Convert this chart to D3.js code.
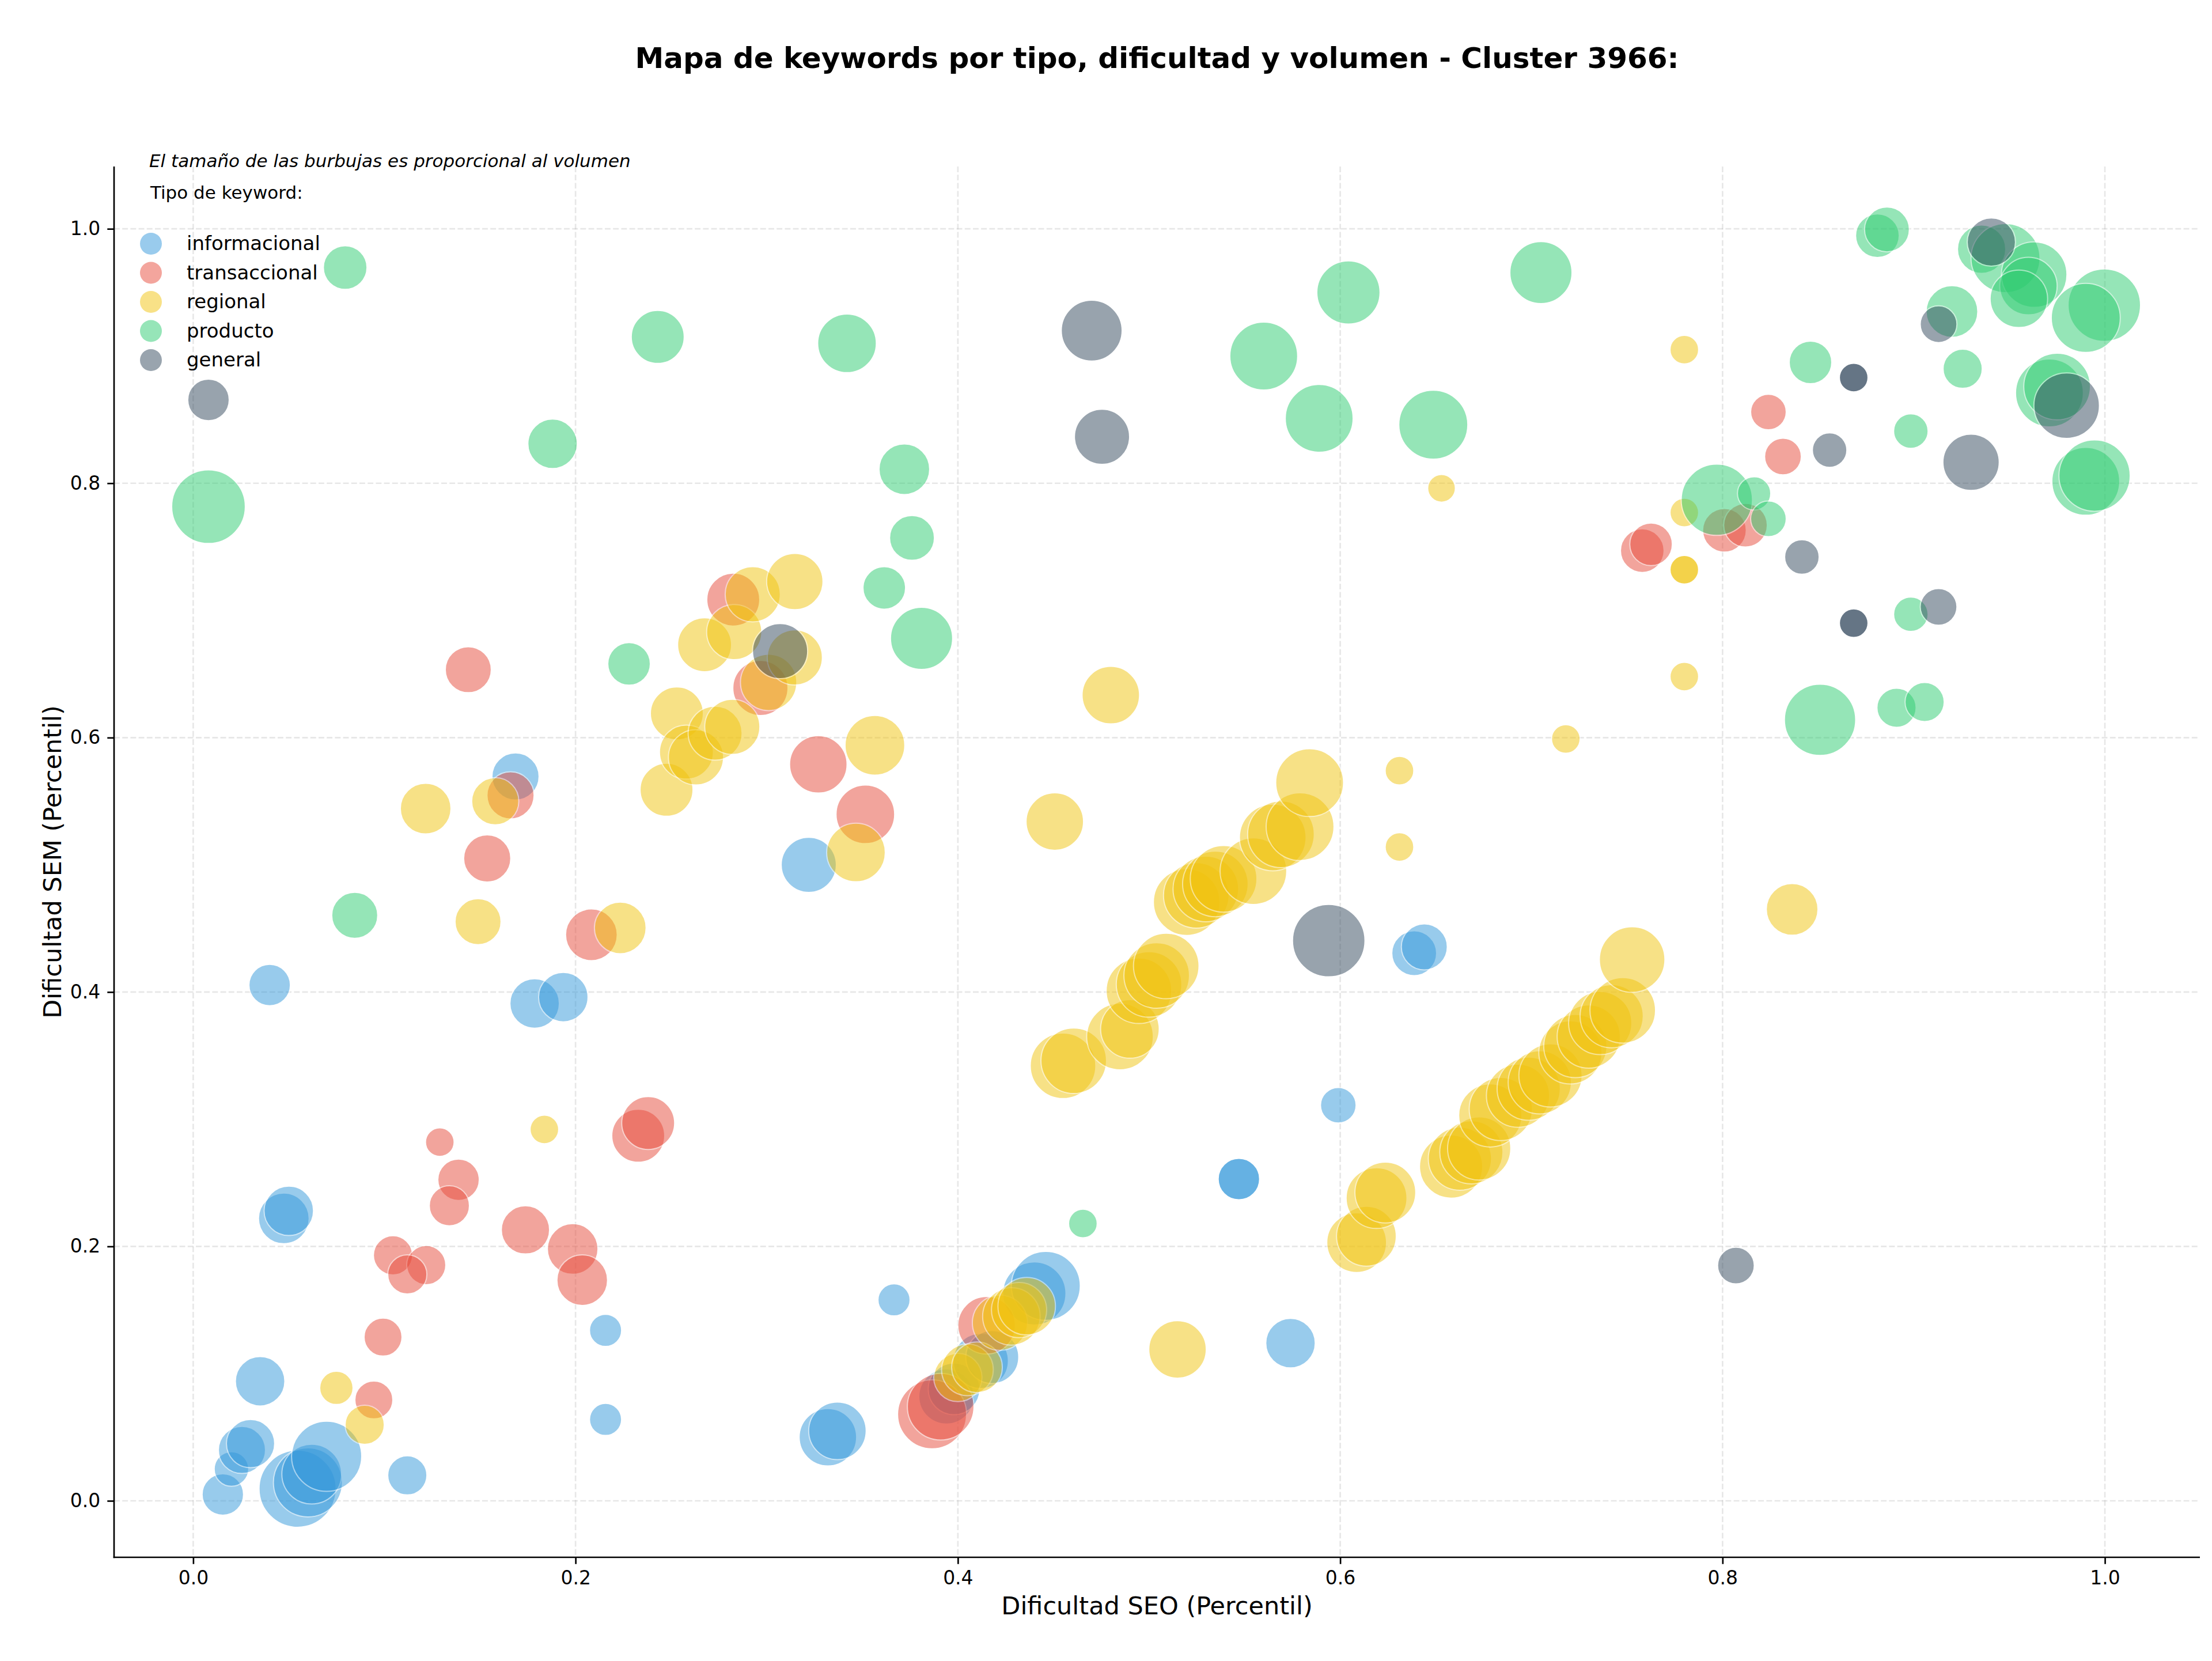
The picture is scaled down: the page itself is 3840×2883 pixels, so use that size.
<!DOCTYPE html>
<html>
<head>
<meta charset="utf-8">
<script src="https://cdn.jsdelivr.net/npm/d3@7/dist/d3.min.js"></script>
<style>
  body { margin: 0; background: #fff; }
  svg text { font-family: "DejaVu Sans", sans-serif; }
</style>
</head>
<body>
<svg id="chart" width="3840" height="2883"></svg>
<script>
// tipos de keyword y colores
const tipos = ["informacional", "transaccional", "regional", "producto", "general"];
const colores = ["#3498db", "#e74c3c", "#f1c40f", "#2ecc71", "#34495e"];

// [dificultad SEO, dificultad SEM, volumen]
const informacional = [
  [0.0155, 0.005, 1300], [0.020, 0.025, 900], [0.0255, 0.040, 1680], [0.030, 0.045, 1760],
  [0.035, 0.094, 1850], [0.0546, 0.0095, 4490], [0.060, 0.0145, 3600], [0.062, 0.021, 2700],
  [0.0698, 0.035, 3720], [0.112, 0.020, 1160], [0.2157, 0.064, 780], [0.2157, 0.134, 780],
  [0.0474, 0.222, 1940], [0.050, 0.228, 1850], [0.040, 0.4055, 1300], [0.1786, 0.391, 1850],
  [0.1936, 0.396, 1850], [0.1686, 0.5695, 1680], [0.322, 0.500, 2300], [0.332, 0.050, 2500],
  [0.337, 0.055, 2500], [0.3666, 0.158, 780], [0.394, 0.082, 2300], [0.398, 0.088, 2020],
  [0.412, 0.110, 2300], [0.418, 0.113, 2120], [0.440, 0.163, 3020], [0.446, 0.169, 3600],
  [0.547, 0.253, 1300], [0.547, 0.253, 1300], [0.599, 0.311, 960], [0.574, 0.124, 1850],
  [0.6387, 0.4305, 1520], [0.644, 0.4355, 1600]
];
const transaccional = [
  [0.129, 0.282, 620], [0.2328, 0.287, 2120], [0.238, 0.297, 2120], [0.1388, 0.2524, 1300],
  [0.134, 0.232, 1220], [0.1738, 0.213, 1760], [0.1985, 0.198, 1940], [0.2035, 0.1735, 1940],
  [0.1045, 0.193, 1160], [0.1219, 0.1853, 1160], [0.112, 0.178, 1160], [0.0993, 0.1287, 1090],
  [0.0945, 0.0793, 1090], [0.3865, 0.068, 3600], [0.391, 0.074, 3360], [0.415, 0.138, 2500],
  [0.1439, 0.6534, 1600], [0.1538, 0.505, 1680], [0.166, 0.5546, 1680], [0.2083, 0.445, 2020],
  [0.2825, 0.7085, 2120], [0.2967, 0.639, 2300], [0.327, 0.579, 2500], [0.3516, 0.5397, 2600],
  [0.758, 0.747, 1440], [0.7626, 0.752, 1370], [0.801, 0.763, 1440], [0.812, 0.767, 1440],
  [0.824, 0.856, 960], [0.8316, 0.821, 1020]
];
const regional = [
  [0.0749, 0.0888, 840], [0.0897, 0.0598, 1160], [0.1837, 0.292, 620], [0.400, 0.097, 1760],
  [0.405, 0.103, 2020], [0.410, 0.105, 1940], [0.422, 0.140, 2300], [0.428, 0.145, 2500],
  [0.432, 0.150, 2300], [0.436, 0.153, 2500], [0.5149, 0.119, 2500], [0.1216, 0.5442, 1940],
  [0.149, 0.4553, 1600], [0.158, 0.550, 1680], [0.2234, 0.4504, 2020], [0.2476, 0.559, 2120],
  [0.253, 0.619, 2120], [0.258, 0.5886, 2200], [0.263, 0.5845, 2300], [0.273, 0.6035, 2200],
  [0.282, 0.6085, 2300], [0.2675, 0.673, 2200], [0.283, 0.683, 2300], [0.2927, 0.7127, 2300],
  [0.3147, 0.7227, 2400], [0.301, 0.6434, 2400], [0.3147, 0.663, 2300], [0.3467, 0.5097, 2600],
  [0.3566, 0.594, 2700], [0.4507, 0.534, 2500], [0.480, 0.6334, 2500], [0.455, 0.342, 3250],
  [0.4606, 0.346, 3250], [0.4848, 0.365, 3360], [0.490, 0.371, 2600], [0.4947, 0.401, 3250],
  [0.500, 0.406, 3250], [0.504, 0.413, 3250], [0.509, 0.4205, 3250], [0.5197, 0.4707, 3360],
  [0.5247, 0.476, 3250], [0.5297, 0.481, 3250], [0.5347, 0.485, 3250], [0.539, 0.489, 3360],
  [0.5546, 0.495, 3360], [0.5647, 0.5215, 3360], [0.569, 0.524, 3360], [0.579, 0.530, 3480],
  [0.584, 0.5646, 3480], [0.6086, 0.203, 2700], [0.6137, 0.208, 2700], [0.619, 0.238, 2800],
  [0.6236, 0.2424, 2800], [0.658, 0.2628, 3020], [0.6626, 0.269, 3020], [0.6686, 0.274, 3020],
  [0.6727, 0.277, 3020], [0.6785, 0.303, 3020], [0.684, 0.308, 3020], [0.693, 0.3185, 3020],
  [0.6986, 0.324, 3020], [0.7044, 0.329, 3020], [0.710, 0.3344, 3020], [0.7204, 0.3525, 3020],
  [0.723, 0.3575, 3020], [0.730, 0.365, 3020], [0.736, 0.3756, 3020], [0.742, 0.381, 3020],
  [0.7478, 0.3856, 3250], [0.7527, 0.4255, 3250], [0.631, 0.574, 620], [0.631, 0.514, 620],
  [0.653, 0.796, 580], [0.718, 0.599, 620], [0.78, 0.905, 620], [0.78, 0.777, 620],
  [0.78, 0.732, 620], [0.78, 0.732, 620], [0.78, 0.648, 620], [0.8364, 0.465, 2020]
];
const producto = [
  [0.0795, 0.9696, 1440], [0.243, 0.915, 2120], [0.342, 0.910, 2600], [0.6043, 0.950, 3020],
  [0.705, 0.9656, 2920], [0.560, 0.900, 3480], [0.188, 0.831, 1850], [0.589, 0.851, 3480],
  [0.6487, 0.846, 3600], [0.008, 0.7816, 4100], [0.372, 0.811, 1940], [0.376, 0.757, 1520],
  [0.3615, 0.7177, 1370], [0.381, 0.678, 2920], [0.228, 0.658, 1370], [0.0845, 0.4603, 1600],
  [0.4654, 0.218, 620], [0.881, 0.9946, 1440], [0.886, 0.9995, 1520], [0.9355, 0.984, 1760],
  [0.948, 0.977, 3600], [0.963, 0.964, 3250], [0.960, 0.955, 2500], [0.955, 0.945, 2500],
  [0.920, 0.935, 2020], [0.9997, 0.940, 3970], [0.990, 0.930, 3600], [0.846, 0.895, 1370],
  [0.9256, 0.890, 1160], [0.971, 0.871, 3480], [0.975, 0.876, 3360], [0.8985, 0.841, 900],
  [0.990, 0.8015, 3480], [0.9946, 0.806, 3840], [0.797, 0.787, 3840], [0.8165, 0.792, 840],
  [0.824, 0.772, 960], [0.8985, 0.697, 900], [0.851, 0.614, 3840], [0.891, 0.6235, 1160],
  [0.9057, 0.628, 1160]
];
const general = [
  [0.008, 0.8655, 1300], [0.470, 0.920, 2800], [0.4754, 0.8365, 2300], [0.307, 0.668, 2300],
  [0.594, 0.4404, 3970], [0.807, 0.185, 1020], [0.9406, 0.9896, 1760], [0.913, 0.925, 1020],
  [0.8686, 0.883, 620], [0.8686, 0.883, 620], [0.856, 0.826, 900], [0.930, 0.8165, 2400],
  [0.980, 0.861, 3250], [0.8415, 0.742, 900], [0.8686, 0.690, 620], [0.8686, 0.690, 620],
  [0.913, 0.7028, 1020]
];
const series = [informacional, transaccional, regional, producto, general];
const ticks = [0, 0.2, 0.4, 0.6, 0.8, 1.0];

const titulo = "Mapa de keywords por tipo, dificultad y volumen - Cluster 3966:";
const nota = "El tamaño de las burbujas es proporcional al volumen";

const svg = d3.select("#chart");
const m = { left: 198, right: 3819, top: 289, bottom: 2703 };

svg.append("rect").attr("width", 3840).attr("height", 2883).attr("fill", "#fff");

const x = d3.scaleLinear().domain([-0.0414, 1.0497]).range([m.left, m.right]);
const y = d3.scaleLinear().domain([-0.0444, 1.049]).range([m.bottom, m.top]);
const r = d3.scaleSqrt().domain([0, 4500]).range([0, 67]);

// grid
const grid = svg.append("g")
  .attr("stroke", "#b0b0b0").attr("stroke-opacity", 0.3)
  .attr("stroke-width", 2.67).attr("stroke-dasharray", "9.9,4.3");
grid.selectAll(".gx").data(ticks).enter().append("line")
  .attr("x1", d => x(d)).attr("x2", d => x(d)).attr("y1", m.top).attr("y2", m.bottom);
grid.selectAll(".gy").data(ticks).enter().append("line")
  .attr("y1", d => y(d)).attr("y2", d => y(d)).attr("x1", m.left).attr("x2", m.right);

// burbujas
const plot = svg.append("g");
series.forEach((ds, i) => {
  plot.append("g").selectAll("circle")
    .data(ds)
    .enter()
    .append("circle")
    .attr("cx", d => x(d[0]))
    .attr("cy", d => y(d[1]))
    .attr("r", d => r(d[2]))
    .attr("fill", colores[i])
    .attr("stroke", "#fff")
    .attr("stroke-width", 2)
    .attr("opacity", 0.5);
});

// ejes
const fmt = d3.format(".1f");
const xAxis = svg.append("g").attr("transform", "translate(0," + m.bottom + ")")
  .call(d3.axisBottom(x).tickValues(ticks).tickFormat(fmt).tickSizeOuter(0).tickSize(11.7).tickPadding(12));
const yAxis = svg.append("g").attr("transform", "translate(" + m.left + ",0)")
  .call(d3.axisLeft(y).tickValues(ticks).tickFormat(fmt).tickSizeOuter(0).tickSize(11.7).tickPadding(12));
[xAxis, yAxis].forEach(a => {
  a.select(".domain").remove();
  a.selectAll(".tick line").attr("stroke", "#000").attr("stroke-width", 2.67);
  a.selectAll(".tick text").attr("font-size", 33).attr("font-family", "DejaVu Sans").attr("fill", "#000");
});
// spines izquierda y abajo
svg.append("line").attr("x1", m.left).attr("x2", m.left).attr("y1", m.top).attr("y2", m.bottom + 1.3)
  .attr("stroke", "#000").attr("stroke-width", 2.67);
svg.append("line").attr("x1", m.left - 1.3).attr("x2", m.right).attr("y1", m.bottom).attr("y2", m.bottom)
  .attr("stroke", "#000").attr("stroke-width", 2.67);

// textos
svg.append("text").attr("x", (m.left + m.right) / 2).attr("y", 118)
  .attr("text-anchor", "middle").attr("font-size", 50).attr("font-weight", "bold")
  .text(titulo);
svg.append("text").attr("x", (m.left + m.right) / 2).attr("y", 2802)
  .attr("text-anchor", "middle").attr("font-size", 43)
  .text("Dificultad SEO (Percentil)");
svg.append("text").attr("transform", "translate(106," + (m.top + m.bottom) / 2 + ") rotate(-90)")
  .attr("text-anchor", "middle").attr("font-size", 43)
  .text("Dificultad SEM (Percentil)");
svg.append("text").attr("x", 259).attr("y", 290)
  .attr("font-size", 31).attr("font-style", "italic")
  .text(nota);

// leyenda
const leg = svg.append("g");
leg.append("text").attr("x", 261).attr("y", 345).attr("font-size", 31).text("Tipo de keyword:");
const items = leg.selectAll(".item").data(tipos).enter().append("g")
  .attr("transform", (d, i) => "translate(262," + (423 + i * 50.5) + ")");
items.append("circle").attr("r", 19).attr("fill", (d, i) => colores[i]).attr("opacity", 0.5);
items.append("text").attr("x", 62).attr("y", 11).attr("font-size", 34).text(d => d);
</script>
</body>
</html>
